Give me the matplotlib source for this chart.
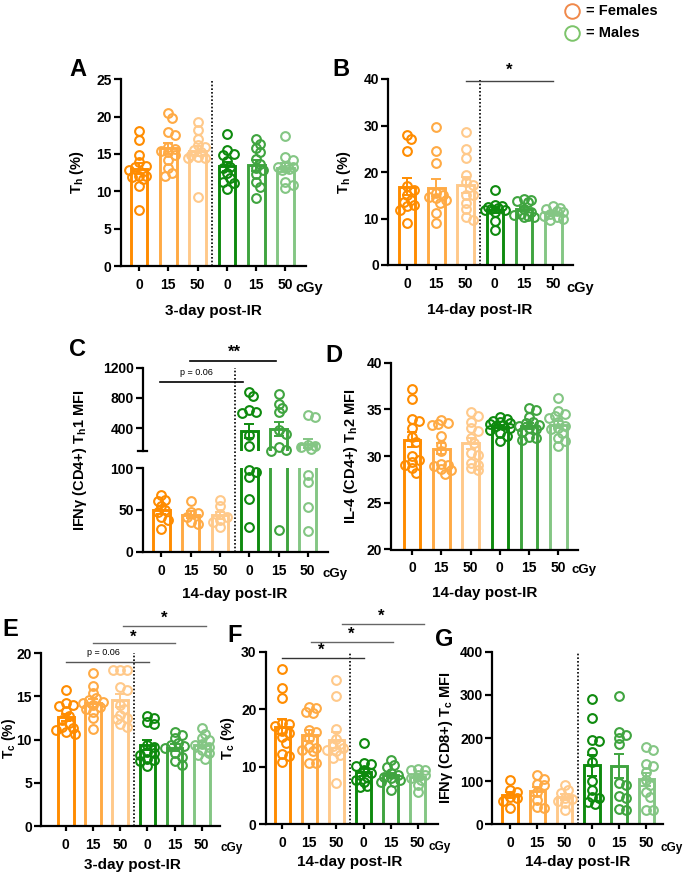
import numpy as np
import matplotlib.pyplot as plt

plt.rcParams['font.family'] = ['Liberation Sans', 'DejaVu Sans']
plt.rcParams['font.weight'] = 'bold'
plt.rcParams['mathtext.fontset'] = 'custom'
plt.rcParams['mathtext.bf'] = 'Liberation Sans:bold'
plt.rcParams['mathtext.rm'] = 'Liberation Sans:bold'
plt.rcParams['mathtext.default'] = 'bf'

# dose labels and group colours (F 0/15/50, M 0/15/50)
doses = ['0', '15', '50', '0', '15', '50']
colors = ['#FF8C00', '#FFAA44', '#FFC98A', '#0E8A0E', '#3FA43F', '#84C684']

# A: Th (%) 3-day
a_f0 = [18.1, 16.9, 14.8, 13.9, 13.4, 13.2, 12.9, 12.1, 12.0, 11.9, 11.6, 10.7, 7.5]
a_f15 = [20.5, 19.8, 17.9, 17.6, 15.9, 15.7, 15.4, 15.2, 14.9, 14.2, 13.1, 12.5, 12.0]
a_f50 = [19.3, 18.2, 17.0, 16.2, 15.9, 15.5, 15.3, 14.9, 14.6, 14.4, 14.4, 9.2]
a_m0 = [17.7, 15.5, 15.0, 14.9, 14.0, 13.3, 13.1, 12.4, 11.8, 11.3, 11.1, 10.3]
a_m15 = [17.0, 16.4, 15.8, 15.2, 14.3, 13.7, 13.1, 12.9, 12.3, 11.3, 10.6, 9.1]
a_m50 = [17.4, 14.6, 14.2, 13.4, 13.3, 13.2, 13.0, 12.8, 11.3, 10.9, 10.5]

# B: Th (%) 14-day
b_f0 = [28.0, 27.1, 24.6, 16.9, 16.2, 15.1, 14.0, 13.6, 12.9, 12.6, 11.8, 9.0]
b_f15 = [29.6, 24.6, 21.9, 15.4, 15.0, 14.7, 14.4, 14.0, 13.3, 11.1, 9.0]
b_f50 = [28.7, 24.9, 23.1, 19.4, 17.9, 17.2, 15.1, 15.0, 13.3, 12.0, 10.4, 9.7]
b_m0 = [16.1, 12.8, 12.6, 12.4, 12.2, 12.0, 11.9, 11.8, 11.5, 9.4, 7.5]
b_m15 = [14.2, 14.0, 13.8, 13.5, 12.0, 11.5, 11.0, 10.8, 10.5, 10.3, 10.4]
b_m50 = [12.6, 12.3, 12.0, 11.6, 11.4, 11.0, 10.6, 10.3, 9.6, 10.0]

# C: IFNg Th1 MFI 14-day
c_f0 = [68, 62, 60, 55, 50, 47, 42, 38, 27]
c_f15 = [61, 48, 46, 42, 36, 33]
c_f50 = [62, 55, 45, 41, 38, 35, 29]
c_m0 = [884, 827, 640, 609, 600, 307, 160, 98, 95, 89, 63, 29]
c_m15 = [853, 720, 667, 613, 373, 330, 151, 107, 104, 26]
c_m50 = [573, 551, 173, 160, 147, 120, 92, 83, 54, 25]

# D: IL-4 Th2 MFI 14-day
d_f0 = [37.2, 36.1, 34.0, 33.8, 33.0, 32.0, 31.5, 30.0, 29.4, 29.1, 28.7, 28.2, 29.6]
d_f15 = [33.9, 33.5, 33.4, 33.3, 32.2, 31.2, 30.5, 29.2, 29.0, 28.9, 28.6, 28.5, 28.1]
d_f50 = [34.7, 34.3, 33.7, 33.0, 32.7, 31.9, 31.4, 30.3, 30.1, 29.3, 29.1, 28.7, 28.5]
d_m0 = [34.2, 34.0, 33.8, 33.6, 33.5, 33.4, 33.3, 33.2, 33.0, 32.8, 32.5, 32.2, 31.6]
d_m15 = [35.2, 34.9, 34.2, 33.7, 33.5, 33.3, 33.2, 32.9, 32.6, 32.0, 31.9, 31.7, 33.0]
d_m50 = [36.2, 34.8, 34.5, 34.3, 34.1, 33.6, 33.2, 33.0, 32.9, 32.5, 31.9, 31.6, 31.1]

# E: Tc (%) 3-day
e_f0 = [15.7, 14.3, 14.0, 13.9, 13.3, 12.7, 12.3, 11.9, 11.5, 11.3, 11.1, 10.9, 10.7]
e_f15 = [17.7, 16.2, 15.4, 14.8, 14.6, 14.4, 14.2, 14.0, 13.8, 13.6, 13.2, 12.5, 11.2]
e_f50 = [18.1, 18.1, 18.1, 16.1, 15.7, 14.0, 13.5, 12.9, 12.5, 12.4, 11.8, 11.5]
e_m0 = [12.7, 12.5, 12.0, 11.8, 9.4, 9.2, 8.6, 8.4, 8.2, 7.8, 7.6, 7.5, 6.9]
e_m15 = [10.9, 10.5, 10.2, 9.6, 9.4, 9.3, 9.0, 8.4, 8.0, 7.5, 7.1]
e_m50 = [11.3, 10.7, 10.2, 10.0, 9.5, 9.4, 9.2, 8.8, 8.4, 8.2, 7.8]

# F: Tc (%) 14-day
f_f0 = [27.0, 23.7, 21.9, 17.6, 17.4, 17.0, 16.2, 15.8, 15.1, 14.2, 12.3, 11.8, 10.8]
f_f15 = [20.4, 20.2, 19.6, 19.4, 16.4, 16.1, 15.0, 13.5, 13.2, 12.8, 12.9, 10.6, 10.6]
f_f50 = [25.0, 22.3, 16.5, 14.8, 14.0, 13.6, 13.3, 13.0, 12.7, 12.0, 11.5, 7.2]
f_m0 = [14.1, 10.7, 10.4, 10.2, 9.4, 9.0, 8.6, 8.3, 7.7, 7.4, 6.6, 6.5]
f_m15 = [11.2, 10.3, 10.0, 8.9, 8.6, 8.3, 8.0, 7.7, 7.4, 7.3, 6.0]
f_m50 = [9.6, 9.5, 9.4, 8.6, 8.5, 8.0, 7.7, 6.8, 5.7]

# G: IFNg Tc MFI 14-day
g_f0 = [102, 80, 76, 64, 60, 55, 37]
g_f15 = [114, 105, 94, 90, 75, 56, 41, 37]
g_f50 = [92, 80, 72, 62, 58, 55, 50, 33]
g_m0 = [290, 246, 195, 192, 167, 145, 101, 80, 64, 60, 52, 48]
g_m15 = [298, 215, 208, 200, 185, 95, 90, 66, 62, 35, 33]
g_m50 = [180, 173, 140, 135, 122, 103, 92, 75, 64, 33, 33]

W, H = 685, 874
fig = plt.figure(figsize=(W / 100, H / 100), dpi=100)


def add_ax(l, r, t, b):
    # axes from pixel box (left, right, top, bottom)
    return fig.add_axes([l / W, 1 - b / H, (r - l) / W, (b - t) / H])


def style(ax, xlim, ylim, yticks):
    ax.set_xlim(xlim)
    ax.set_ylim(ylim)
    ax.set_yticks(yticks)
    ax.set_xticks(range(6))
    ax.set_xticklabels(doses)
    ax.spines['top'].set_visible(False)
    ax.spines['right'].set_visible(False)
    ax.spines['left'].set_linewidth(1.6)
    ax.spines['bottom'].set_linewidth(1.6)
    ax.tick_params(axis='y', width=1.6, length=5, pad=1.5, labelsize=10)
    ax.tick_params(axis='x', width=1.6, length=3.6, pad=5, labelsize=10)


def swarm_x(ax, x0, vals, d=8.8):
    disp = ax.transData.transform(np.column_stack([np.full(len(vals), float(x0)), vals]))
    placed = []
    xs = np.zeros(len(vals))
    for i in np.argsort(-np.asarray(vals, dtype=float)):
        px, py = disp[i]
        best, best_score = px, -1
        for off in [0, 0.4, -0.4, 0.8, -0.8, 1.1, -1.1]:
            cx = px + off * d
            score = min([np.hypot(cx - qx, py - qy) for qx, qy in placed] + [99])
            if score >= 0.6 * d:
                best = cx
                break
            if score > best_score:
                best, best_score = cx, score
        placed.append((best, py))
        xs[i] = best
    return ax.transData.inverted().transform(np.column_stack([xs, disp[:, 1]]))[:, 0]


def bars(ax, groups, points=True):
    for i, vals in enumerate(groups):
        v = np.asarray(vals, dtype=float)
        m = v.mean()
        s = v.std(ddof=1) / np.sqrt(len(v))
        ax.bar(i, m, width=0.57, fill=False, edgecolor=colors[i], linewidth=2.1, zorder=2)
        ax.errorbar(i, m, yerr=s, fmt='none', ecolor=colors[i], elinewidth=1.4,
                    capsize=3.5, capthick=1.4, zorder=3)
        if points:
            xs = swarm_x(ax, i, v)
            ax.plot(xs, v, 'o', ms=6.3, mfc='none', mec=colors[i], mew=1.5, zorder=4, clip_on=False)


def sig(ax, x1, x2, y, ty, txt, tx, color='#333333', fs=12, lw=1.0, weight='bold'):
    ax.plot([x1, x2], [y, y], color=color, lw=lw, clip_on=False, zorder=5)
    ax.text(tx, ty, txt, ha='center', va='center', fontsize=fs, fontweight=weight, color='black')


def dotted(ax, ymax=1.0):
    ax.axvline(2.5, ymin=0, ymax=ymax, color='black', ls=(0, (1, 1.2)), lw=1.2, clip_on=False, zorder=1)


# ---- A ----
axA = add_ax(120.7, 306, 79.3, 266)
style(axA, (-0.625, 5.70), (0, 25), [0, 5, 10, 15, 20, 25])
bars(axA, [a_f0, a_f15, a_f50, a_m0, a_m15, a_m50])
dotted(axA)

# ---- B ----
axB = add_ax(388, 573, 79, 265)
style(axB, (-0.65, 5.67), (0, 40), [0, 10, 20, 30, 40])
bars(axB, [b_f0, b_f15, b_f50, b_m0, b_m15, b_m50])
dotted(axB)
sig(axB, 2, 5, 39.6, 41.8, '*', 3.5, color='#444444')

# ---- C (broken axis) ----
c_groups = [c_f0, c_f15, c_f50, c_m0, c_m15, c_m50]
axCu = add_ax(142.7, 328, 367.7, 451)
axCl = add_ax(142.7, 328, 468, 551.7)
style(axCl, (-0.64, 5.69), (0, 100), [0, 50, 100])
style(axCu, (-0.64, 5.69), (100, 1200), [400, 800, 1200])
axCu.spines['bottom'].set_visible(False)
axCu.set_xticks([])
axCu.plot([-0.025, 0.025], [0, 0], transform=axCu.transAxes, color='black', lw=1.6, clip_on=False)
bars(axCu, c_groups, points=False)
bars(axCl, c_groups, points=False)
for i, vals in enumerate(c_groups):
    v = np.asarray(vals, dtype=float)
    hi = v[v > 100]
    lo = v[v <= 100]
    if len(hi):
        axCu.plot(swarm_x(axCu, i, hi), hi, 'o', ms=6.3, mfc='none', mec=colors[i], mew=1.5, zorder=4, clip_on=False)
    if len(lo):
        axCl.plot(swarm_x(axCl, i, lo), lo, 'o', ms=6.3, mfc='none', mec=colors[i], mew=1.5, zorder=4, clip_on=False)
dotted(axCl, ymax=(551.7 - 367.7) / (551.7 - 468))
sig(axCu, 0.98, 3.93, 1288, 1405, '**', 2.5, color='black', lw=1.2)
sig(axCu, -0.05, 2.8, 1015, 1134, 'p = 0.06', 1.2, color='black', fs=6.5, lw=1.2, weight='normal')

# ---- D ----
axD = add_ax(391, 578, 362.7, 549.5)
style(axD, (-0.72, 5.67), (20, 40), [20, 25, 30, 35, 40])
bars(axD, [d_f0, d_f15, d_f50, d_m0, d_m15, d_m50])

# ---- E ----
axE = add_ax(41, 220, 653.3, 826)
style(axE, (-0.91, 5.67), (0, 20), [0, 5, 10, 15, 20])
bars(axE, [e_f0, e_f15, e_f50, e_m0, e_m15, e_m50])
dotted(axE)
sig(axE, 0, 3.05, 19.03, 20.1, 'p = 0.06', 1.37, color='#555555', fs=6.5, weight='normal')
sig(axE, 1, 4.02, 21.23, 21.9, '*', 2.47, color='#666666')
sig(axE, 2.1, 5.15, 23.16, 24.0, '*', 3.61, color='#666666')

# ---- F ----
axF = add_ax(265.7, 438.3, 651.7, 824.3)
style(axF, (-0.61, 5.76), (0, 30), [0, 10, 20, 30])
bars(axF, [f_f0, f_f15, f_f50, f_m0, f_m15, f_m50])
dotted(axF)
sig(axF, 0, 3.0, 28.85, 30.2, '*', 1.45, color='#333333')
sig(axF, 1.06, 4.1, 31.74, 33.1, '*', 2.54, color='#666666')
sig(axF, 2.19, 5.23, 34.76, 36.2, '*', 3.67, color='#666666')

# ---- G ----
axG = add_ax(492.3, 663.3, 651.7, 824.3)
style(axG, (-0.65, 5.62), (0, 400), [0, 100, 200, 300, 400])
bars(axG, [g_f0, g_f15, g_f50, g_m0, g_m15, g_m50])
dotted(axG)

# ---- free text in pixel coordinates ----
ov = fig.add_axes([0, 0, 1, 1], zorder=10)
ov.set_axis_off()
ov.set_xlim(0, W)
ov.set_ylim(H, 0)

for lab, x, y in [('A', 78, 70), ('B', 341, 70), ('C', 78, 350), ('D', 334, 355),
                  ('E', 10, 630), ('F', 235, 636), ('G', 444, 640)]:
    ov.text(x, y, lab, ha='center', va='center', fontsize=17, fontweight='bold')

for lab, x, y, fs in [(r'T$_h$ (%)', 77, 172, 10.5), (r'T$_h$ (%)', 344, 172, 10.5),
                      (r'IFNγ (CD4+) T$_h$1 MFI', 80, 460, 10.5), (r'IL-4 (CD4+) T$_h$2 MFI', 351, 456, 10.5),
                      (r'T$_c$ (%)', 9, 738, 10), (r'T$_c$ (%)', 228, 738, 10.5),
                      (r'IFNγ (CD8+) T$_c$ MFI', 446, 738, 10.5)]:
    ov.text(x, y, lab, ha='center', va='center', rotation=90, fontsize=fs, fontweight='bold')

for lab, x, y in [('3-day post-IR', 213, 311), ('14-day post-IR', 480, 310),
                  ('14-day post-IR', 235, 594), ('14-day post-IR', 485, 593),
                  ('3-day post-IR', 132, 865), ('14-day post-IR', 350, 862),
                  ('14-day post-IR', 578, 862)]:
    ov.text(x, y, lab, ha='center', va='center', fontsize=11, fontweight='bold')

for x, y, fs in [(309, 288, 10.5), (580, 288, 10.5), (335, 574, 9.5), (584, 570, 9.5),
                 (232, 848, 8.5), (440, 847, 8.5), (672, 848, 8.5)]:
    ov.text(x, y, 'cGy', ha='center', va='center', fontsize=fs, fontweight='bold')

# legend
ov.plot([572], [11], 'o', ms=10.5, mfc='none', mec='#F0894A', mew=1.4, clip_on=False)
ov.plot([572], [33], 'o', ms=10.5, mfc='none', mec='#7CC46A', mew=1.4, clip_on=False)
ov.text(586, 11, '= Females', ha='left', va='center', fontsize=10.5, fontweight='bold')
ov.text(586, 33, '= Males', ha='left', va='center', fontsize=10.5, fontweight='bold')

fig.savefig('out.png', dpi=100)
